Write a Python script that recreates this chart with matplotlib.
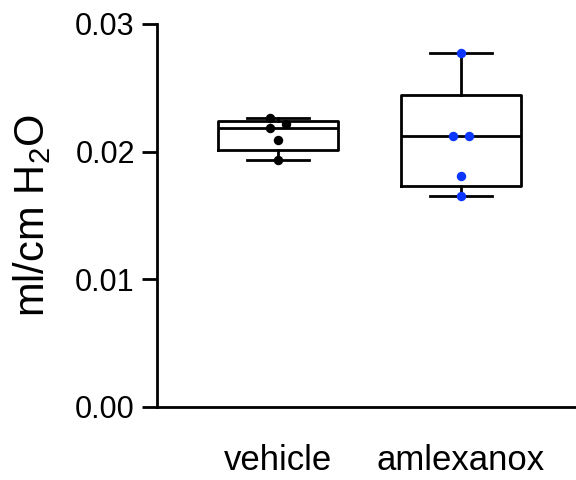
import numpy as np
import matplotlib
matplotlib.use("Agg")
import matplotlib.pyplot as plt

plt.rcParams['font.family'] = ['Liberation Sans', 'DejaVu Sans']
plt.rcParams['mathtext.fontset'] = 'custom'
plt.rcParams['mathtext.rm'] = 'Liberation Sans'
plt.rcParams['mathtext.it'] = 'Liberation Sans'

groups = ["vehicle", "amlexanox"]
vehicle = [0.02261, 0.02214, 0.02182, 0.02091, 0.01932]
amlexanox = [0.02770, 0.02122, 0.02122, 0.01811, 0.01650]
vehicle_jitter = [-0.042, 0.042, -0.042, 0.0, 0.0]
amlexanox_jitter = [0.0, -0.044, 0.042, 0.0, 0.0]
colors = ["#000000", "#0a36ff"]
yticks = [0.00, 0.01, 0.02, 0.03]
ytick_labels = ["0.00", "0.01", "0.02", "0.03"]

fig = plt.figure(figsize=(5.76, 4.8), dpi=100)
ax = fig.add_axes([157/576, 1-407/480, (575-157)/576, (407-24)/480])

data = [vehicle, amlexanox]
jitters = [vehicle_jitter, amlexanox_jitter]
stats = []
for name, d in zip(groups, data):
    d = np.asarray(d)
    q1, med, q3 = np.percentile(d, [25, 50, 75], method='weibull')
    stats.append(dict(label=name, med=med, q1=q1, q3=q3,
                      whislo=d.min(), whishi=d.max(), fliers=[]))

lw = 2.0
ax.bxp(stats, positions=[0, 1], widths=0.656, capwidths=0.34,
       showfliers=False, patch_artist=False,
       boxprops=dict(color='black', linewidth=lw),
       whiskerprops=dict(color='black', linewidth=lw),
       capprops=dict(color='black', linewidth=lw),
       medianprops=dict(color='black', linewidth=lw))

for i, (d, j, c) in enumerate(zip(data, jitters, colors)):
    ax.plot(np.array(j) + i, d, 'o', color=c, markersize=6.8,
            markeredgewidth=0, zorder=3)

ax.set_xlim(-0.661, 1.623)
ax.set_ylim(0, 0.03)
ax.set_yticks(yticks)
ax.set_yticklabels(ytick_labels)
ax.set_xticks([0, 1])
ax.set_xticklabels(groups)
ax.spines['top'].set_visible(False)
ax.spines['right'].set_visible(False)
ax.spines['left'].set_linewidth(lw)
ax.spines['bottom'].set_linewidth(lw)
ax.tick_params(axis='y', length=11, width=lw, pad=5, labelsize=22)
ax.tick_params(axis='x', length=0, pad=27, labelsize=25)
ax.set_ylabel(r'ml/cm H$_\mathregular{2}$O', fontsize=30, labelpad=16)

fig.savefig("out.png", dpi=100)
